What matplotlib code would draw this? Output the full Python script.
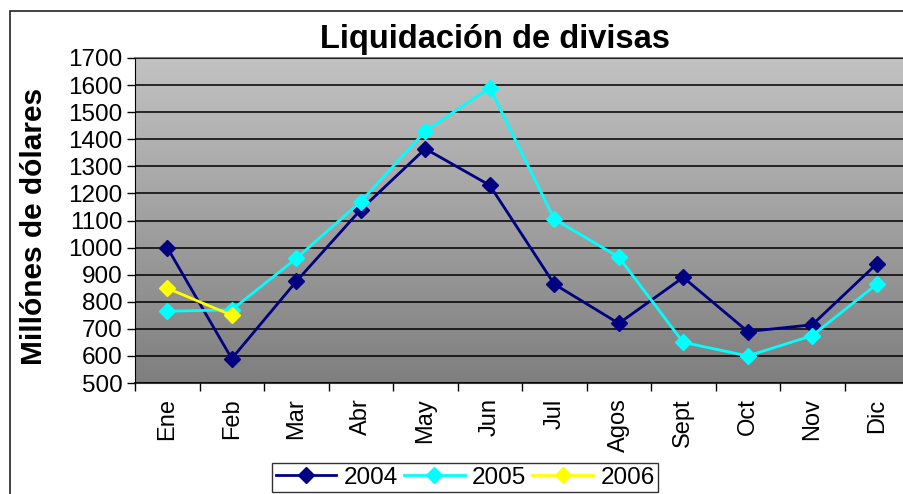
import matplotlib.pyplot as plt
import numpy as np
from matplotlib.patches import Rectangle

plt.rcParams["font.family"] = ["Liberation Sans", "DejaVu Sans"]

# data
meses = ["Ene", "Feb", "Mar", "Abr", "May", "Jun", "Jul", "Agos", "Sept", "Oct", "Nov", "Dic"]
v2004 = [1000, 590, 875, 1140, 1365, 1230, 865, 720, 890, 690, 715, 940]
v2005 = [765, 770, 960, 1170, 1430, 1590, 1105, 965, 650, 600, 675, 865]
v2006 = [850, 750]

W, H = 904, 494
fig = plt.figure(figsize=(W / 100, H / 100), dpi=100)

# outer chart border (cropped at right/bottom like the reference)
fig.patches.append(Rectangle((10 / W, -0.1), 1.2, 1 - 11 / H + 0.1,
                             transform=fig.transFigure, fill=False,
                             edgecolor="#222222", linewidth=1.2))

ax = fig.add_axes([135 / W, 111 / H, 774 / W, 325 / H])

# gradient plot area
grad = np.linspace(0, 1, 256).reshape(-1, 1)
ax.imshow(grad, extent=(0, 1, 0, 1), transform=ax.transAxes, aspect="auto",
          cmap=plt.matplotlib.colors.LinearSegmentedColormap.from_list(
              "g", ["#7f7f7f", "#c2c2c2"]), origin="lower", zorder=0)

x = np.arange(len(meses))
ax.plot(x, v2004, color="#000080", marker="D", ms=8, lw=2, label="2004", zorder=3)
ax.plot(x, v2005, color="#00FFFF", marker="D", ms=8, lw=2, label="2005", zorder=3)
ax.plot(x[:len(v2006)], v2006, color="#FFFF00", marker="D", ms=8, lw=2, label="2006", zorder=4)

ax.set_xlim(-0.5, len(meses) - 0.5)
ax.set_ylim(500, 1700)
ax.set_yticks(np.arange(500, 1701, 100))
ax.yaxis.grid(True, color="black", linewidth=1.1)
ax.set_axisbelow(False)
for gl in ax.get_ygridlines():
    gl.set_zorder(1)

ax.set_xticks(x)
ax.set_xticklabels(meses, rotation=90, fontsize=17)
ax.tick_params(axis="x", length=0, pad=11)
ax.set_xticks(np.arange(-0.5, len(meses), 1), minor=True)
ax.tick_params(axis="x", which="minor", length=6, width=1, direction="out")
ax.tick_params(axis="y", length=6, width=1, direction="out", labelsize=17.5, pad=3)

for s in ["top", "right"]:
    ax.spines[s].set_color("#808080")
    ax.spines[s].set_linewidth(1.5)
ax.spines["left"].set_color("black")
ax.spines["bottom"].set_color("#333333")
ax.spines["bottom"].set_linewidth(1.5)

fig.text(495 / W, 1 - 48 / H, "Liquidación de divisas", ha="center", va="baseline",
         fontsize=23.5, fontweight="bold")
fig.text(34 / W, 1 - 226 / H, "Millónes de dólares", rotation=90, ha="center",
         va="center", fontsize=21.5, fontweight="bold")

leg = fig.legend(loc="upper left", bbox_to_anchor=(272 / W, 1 - 463 / H), ncol=3,
                 fontsize=17.5, frameon=True, fancybox=False, handlelength=2.5,
                 handletextpad=0.3, columnspacing=0.25, borderpad=0.15,
                 borderaxespad=0)
leg.get_frame().set_edgecolor("black")
leg.get_frame().set_linewidth(1)

fig.savefig("out.png", dpi=100)
